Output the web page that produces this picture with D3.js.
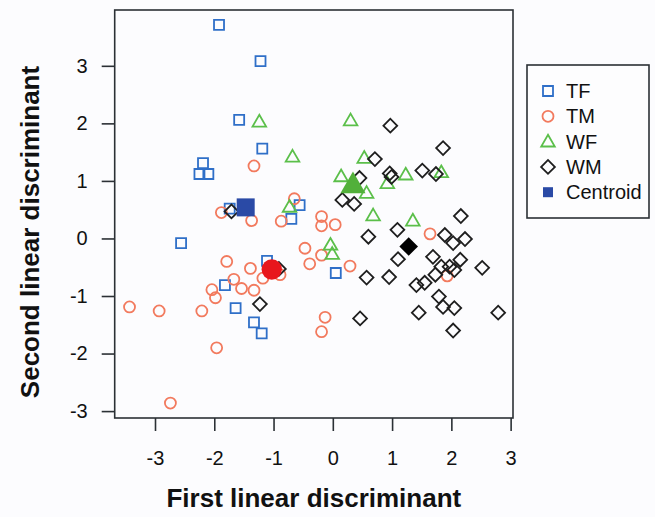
<!DOCTYPE html>
<html>
<head>
<meta charset="utf-8">
<script src="https://cdn.jsdelivr.net/npm/d3@7"></script>
<style>
  body { margin: 0; background: #fcfcfe; }
  svg { display: block; font-family: "Liberation Sans", Arial, sans-serif; }
</style>
</head>
<body>
<svg id="chart" width="655" height="517"></svg>
<script>
// 数据：每组 [第一判别量, 第二判别量]
const groups = ["TF", "TM", "WF", "WM"];

const tfPoints = [
  [-1.92, 3.71], [-1.22, 3.08], [-1.58, 2.06], [-1.19, 1.56], [-2.19, 1.31],
  [-2.25, 1.12], [-2.10, 1.12], [-1.74, 0.52], [-0.56, 0.58], [-0.70, 0.34],
  [-2.56, -0.08], [-1.11, -0.39], [-1.82, -0.81], [-1.64, -1.21], [-1.33, -1.46],
  [-1.20, -1.65], [0.05, -0.60]
];

const tmPoints = [
  [-1.33, 1.26], [-0.65, 0.69], [-1.88, 0.45], [-1.37, 0.31], [-0.87, 0.30],
  [-0.19, 0.38], [-0.19, 0.22], [0.04, 0.24], [-0.47, -0.17], [-0.19, -0.29],
  [-0.39, -0.44], [0.29, -0.48], [-1.79, -0.40], [-1.39, -0.52], [-1.18, -0.69],
  [-0.89, -0.63], [-1.67, -0.71], [-1.54, -0.87], [-1.33, -0.90], [-2.04, -0.89],
  [-1.98, -1.03], [-3.43, -1.19], [-2.93, -1.26], [-2.21, -1.26], [-1.96, -1.90],
  [-2.74, -2.86], [-0.13, -1.37], [-0.19, -1.62], [1.64, 0.08], [1.93, -0.65]
];

const wfPoints = [
  [-1.24, 2.03], [-0.68, 1.42], [-0.73, 0.55], [0.30, 2.05], [0.53, 1.40],
  [0.14, 1.08], [0.57, 0.79], [0.92, 0.96], [1.23, 1.11], [1.83, 1.15],
  [0.68, 0.40], [1.35, 0.31], [-0.04, -0.11], [-0.01, -0.27]
];

const wmPoints = [
  [-1.71, 0.47], [-0.91, -0.53], [-1.23, -1.14], [0.97, 1.96], [1.86, 1.57],
  [0.71, 1.38], [0.45, 1.05], [0.96, 1.13], [0.99, 1.07], [1.51, 1.18],
  [1.74, 1.12], [0.16, 0.67], [0.36, 0.60], [2.16, 0.39], [0.60, 0.03],
  [1.09, 0.15], [1.89, 0.06], [2.03, -0.08], [2.23, -0.01], [1.10, -0.36],
  [1.69, -0.32], [2.15, -0.37], [2.52, -0.51], [1.83, -0.49], [1.97, -0.49],
  [2.05, -0.55], [1.73, -0.63], [0.57, -0.68], [0.95, -0.67], [1.41, -0.81],
  [1.55, -0.77], [1.79, -1.01], [1.86, -1.19], [2.05, -1.21], [1.45, -1.29],
  [2.03, -1.60], [2.79, -1.29], [0.46, -1.39]
];

// 各组质心
const centroids = [
  [-1.47, 0.54], [-1.03, -0.54], [0.34, 0.93], [1.28, -0.14]
];

const xTicks = [-3, -2, -1, 0, 1, 2, 3];
const yTicks = [-3, -2, -1, 0, 1, 2, 3];
const legendLabels = ["TF", "TM", "WF", "WM", "Centroid"];

// 样式
const outlineColors = ["#2f6fc8", "#f27a5e", "#5bbf4a", "#1e1e1e"];
const fillColors = ["#2a4aa6", "#e8161c", "#52b03a", "#000000"];
const bigScale = [1.8, 1.85, 1.85, 1.35];

const svg = d3.select("#chart");
const plotLeft = 114.7, plotRight = 513, plotTop = 10, plotBottom = 418;

const x = d3.scaleLinear().domain([-3.68, 3.04]).range([plotLeft, plotRight]);
const y = d3.scaleLinear().domain([-3.12, 3.97]).range([plotBottom, plotTop]);

// 符号生成（开口符号）
function shapePath(g, big) {
  const s = big ? bigScale[g] : 1;
  if (g === 0) return d3.symbol(d3.symbolSquare, 100 * s * s)();
  if (g === 1) return d3.symbol(d3.symbolCircle, 95 * s * s)();
  if (g === 2) return d3.symbol(d3.symbolTriangle, 80 * s * s)();
  return d3.symbol(d3.symbolSquare, 100 * s * s * 0.95)();
}

function drawPoint(sel, g, px, py, big, filled) {
  const p = sel.append("path")
    .attr("d", shapePath(g, big))
    .attr("transform", `translate(${px},${py})` + (g === 3 ? " rotate(45)" : "") + (g === 2 ? " translate(0,1)" : ""));
  if (filled) {
    p.attr("fill", fillColors[g]).attr("stroke", "none");
  } else {
    p.attr("fill", "none").attr("stroke", outlineColors[g]).attr("stroke-width", 1.8);
  }
  return p;
}

// 坐标轴
const xAxis = svg.append("g")
  .attr("transform", `translate(0,${plotBottom})`)
  .call(d3.axisBottom(x).tickValues(xTicks).tickSize(13).tickPadding(20).tickFormat(d3.format("d")));
const yAxis = svg.append("g")
  .attr("transform", `translate(${plotLeft},0)`)
  .call(d3.axisLeft(y).tickValues(yTicks).tickSize(13).tickPadding(14).tickFormat(d3.format("d")));
[xAxis, yAxis].forEach(a => {
  a.select(".domain").remove();
  a.selectAll(".tick line").attr("stroke", "#2b3035").attr("stroke-width", 1.6);
  a.selectAll(".tick text").attr("fill", "#111").attr("font-size", 20)
    .text(d => d < 0 ? "-" + Math.abs(d) : d);
});

// 数据点
const layer = svg.append("g");
[tfPoints, tmPoints, wfPoints, wmPoints].forEach((pts, g) => {
  pts.forEach(d => drawPoint(layer, g, x(d[0]), y(d[1]), false, false));
});
centroids.forEach((d, g) => drawPoint(layer, g, x(d[0]), y(d[1]), true, true));

// 边框
svg.append("rect")
  .attr("x", plotLeft).attr("y", plotTop)
  .attr("width", plotRight - plotLeft).attr("height", plotBottom - plotTop)
  .attr("fill", "none").attr("stroke", "#2b3035").attr("stroke-width", 1.6);

// 轴标题
svg.append("text")
  .attr("x", (plotLeft + plotRight) / 2).attr("y", 507)
  .attr("text-anchor", "middle").attr("font-size", 26).attr("font-weight", "bold")
  .attr("fill", "#111")
  .text("First linear discriminant");
svg.append("text")
  .attr("transform", "translate(39,232) rotate(-90)")
  .attr("text-anchor", "middle").attr("font-size", 26).attr("font-weight", "bold")
  .attr("fill", "#111")
  .text("Second linear discriminant");

// 图例
const lg = svg.append("g");
lg.append("rect")
  .attr("x", 527).attr("y", 65).attr("width", 122).attr("height", 153)
  .attr("fill", "#fdfdfe").attr("stroke", "#2b3035").attr("stroke-width", 1.6);
legendLabels.forEach((lab, i) => {
  const ly = 91 + i * 25.3;
  if (i < 4) drawPoint(lg, i, 548, ly, false, false);
  else lg.append("rect").attr("x", 543).attr("y", ly - 5).attr("width", 10).attr("height", 10)
    .attr("fill", fillColors[0]);
  lg.append("text").attr("x", 566).attr("y", ly).attr("dy", "0.35em")
    .attr("font-size", 20).attr("fill", "#111").text(lab);
});
</script>
</body>
</html>
